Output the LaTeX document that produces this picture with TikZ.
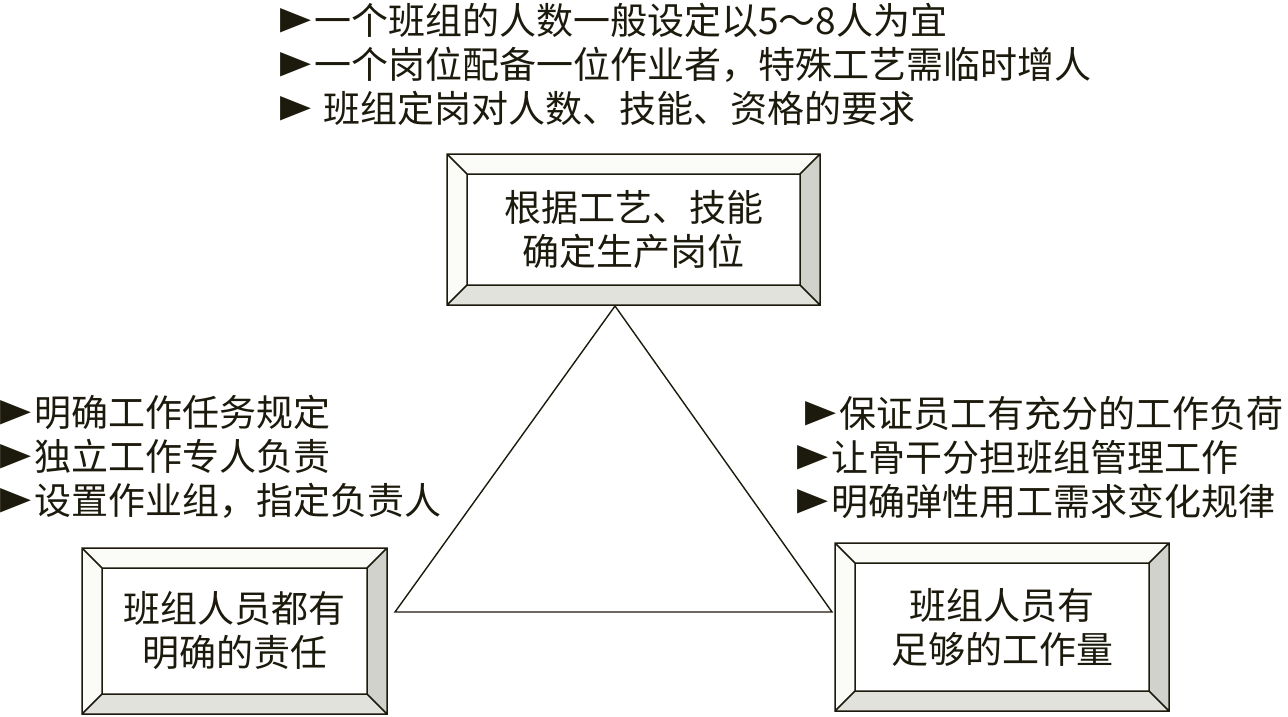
\documentclass[tikz,border=0pt]{standalone}
\usepackage{fontspec}
\usepackage{graphicx}
\setmainfont{Noto Sans CJK SC}
\newfontfamily\dejavu{DejaVu Sans}
\usetikzlibrary{calc}
\definecolor{ink}{HTML}{1C1A0C}
\definecolor{bevR}{HTML}{D2D2CC}
\definecolor{bevB}{HTML}{E2E2DD}
\definecolor{bevL}{HTML}{FBFBF7}
\newcommand\mk{\makebox[34pt][l]{\raisebox{1pt}{\resizebox{31pt}{25pt}{\dejavu ►}}}}
\tikzset{
  listtxt/.style={inner sep=0pt, anchor=base west, align=left, font=\fontsize{37}{44}\selectfont},
  boxtxt/.style={inner sep=0pt, align=center, font=\fontsize{37}{44}\selectfont},
  frame/.style={line width=1.5pt},
}
\newcommand\bevelbox[4]{%
  \coordinate (#1-a) at #2; \coordinate (#1-c) at #3;
  \coordinate (#1-b) at (#1-c |- #1-a);
  \coordinate (#1-d) at (#1-a |- #1-c);
  \coordinate (#1-ia) at ($(#1-a)+(20,20)$);
  \coordinate (#1-ib) at ($(#1-b)+(-20,20)$);
  \coordinate (#1-ic) at ($(#1-c)+(-20,-20)$);
  \coordinate (#1-id) at ($(#1-d)+(20,-20)$);
  \fill[bevL] (#1-a) rectangle (#1-c);
  \fill[bevR] (#1-b) -- (#1-c) -- (#1-ic) -- (#1-ib) -- cycle;
  \fill[bevB] (#1-d) -- (#1-c) -- (#1-ic) -- (#1-id) -- cycle;
  \fill[white] (#1-ia) rectangle (#1-ic);
  \draw[frame] (#1-a) rectangle (#1-c) (#1-ia) rectangle (#1-ic)
     (#1-a) -- (#1-ia) (#1-b) -- (#1-ib) (#1-c) -- (#1-ic) (#1-d) -- (#1-id);
  \node[boxtxt] (#1) at ($(#1-ia)!0.5!(#1-ic)$) {#4};
}
\begin{document}
\begin{tikzpicture}[x=1pt,y=-1pt,color=ink]
\useasboundingbox[fill=white] (0,0) rectangle (1288,717);

% top list (anchor = baseline of last line)
\node[listtxt] (toplist) at (280,122) {\mk 一个班组的人数一般设定以5～8人为宜\\
\mk 一个岗位配备一位作业者，特殊工艺需临时增人\\
\mk\hspace*{9pt}班组定岗对人数、技能、资格的要求};

% left list
\node[listtxt] (leftlist) at (0,514) {\mk 明确工作任务规定\\
\mk 独立工作专人负责\\
\mk 设置作业组，指定负责人};

% right list
\node[listtxt] (rightlist) at (797,515) {\hspace*{8pt}\mk 保证员工有充分的工作负荷\\
\mk 让骨干分担班组管理工作\\
\mk 明确弹性用工需求变化规律};

% boxes
\bevelbox{top}{(447,154)}{(820,305)}{根据工艺、技能\\确定生产岗位}
\bevelbox{left}{(82,548)}{(387,714)}{班组人员都有\\明确的责任}
\bevelbox{right}{(835,543)}{(1169,711)}{班组人员有\\足够的工作量}

% triangle
\coordinate (apex) at (615,306);
\coordinate (bl) at (395,612);
\coordinate (br) at (832,612);
\draw[line width=1.4pt, line join=miter] (apex) -- (bl) -- (br) -- cycle;
\end{tikzpicture}
\end{document}
